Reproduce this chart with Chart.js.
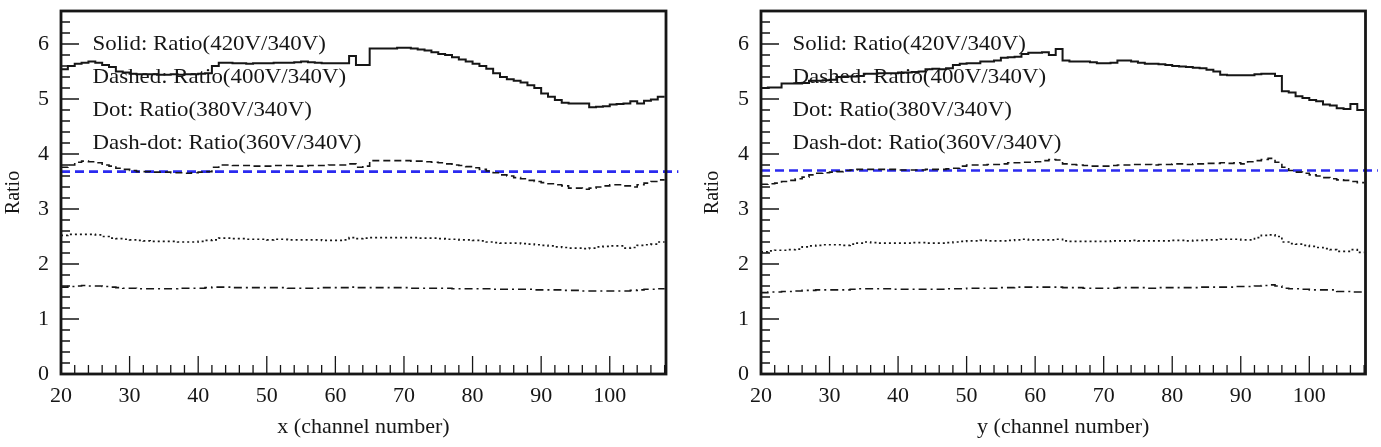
<!DOCTYPE html>
<html>
<head>
<meta charset="utf-8">
<script src="https://cdn.jsdelivr.net/npm/chart.js@4.4.1/dist/chart.umd.min.js"></script>
<style>
  html, body { margin: 0; padding: 0; background: #fff; }
  #wrap { position: relative; width: 1381px; height: 447px; }
  .panel { position: absolute; top: 0; height: 447px; }
</style>
</head>
<body>
<div id="wrap">
  <div class="panel" style="left:0;width:690px"><canvas id="panelX"></canvas></div>
  <div class="panel" style="left:690px;width:691px"><canvas id="panelY"></canvas></div>
</div>
<script>
// bin edges (channel numbers), one bin per channel
const binEdges = [20,21,22,23,24,25,26,27,28,29,30,31,32,33,34,35,36,37,38,39,40,41,42,43,44,45,46,47,48,49,
  50,51,52,53,54,55,56,57,58,59,60,61,62,63,64,65,66,67,68,69,70,71,72,73,74,75,76,77,78,79,
  80,81,82,83,84,85,86,87,88,89,90,91,92,93,94,95,96,97,98,99,100,101,102,103,104,105,106,107,108];

const legendLabels = ['Solid: Ratio(420V/340V)', 'Dashed: Ratio(400V/340V)', 'Dot: Ratio(380V/340V)', 'Dash-dot: Ratio(360V/340V)'];

// ---- x panel ----
const xSolid = [5.54,5.60,5.64,5.66,5.68,5.66,5.62,5.58,5.50,5.48,
  5.46,5.45,5.45,5.45,5.44,5.44,5.45,5.44,5.45,5.45,5.46,5.47,5.60,5.66,
  5.66,5.65,5.65,5.64,5.65,5.65,5.65,5.66,5.66,5.66,5.67,5.68,5.67,5.66,5.65,5.65,5.65,5.65,
  5.78,5.62,5.62,5.92,5.92,5.92,5.92,5.93,5.93,5.92,
  5.90,5.88,5.85,5.82,5.80,5.76,5.72,5.68,5.64,5.60,5.55,5.47,5.40,5.36,5.33,5.30,5.25,5.20,
  5.10,5.04,4.98,4.93,4.92,4.92,4.92,4.85,4.86,4.87,4.90,4.91,4.92,4.96,4.92,4.97,4.99,5.04];
const xDashed = [3.76,3.80,3.85,3.87,3.86,3.84,3.80,3.78,3.74,3.72,
  3.70,3.68,3.68,3.67,3.67,3.67,3.66,3.66,3.65,3.66,3.67,3.68,3.76,3.80,
  3.80,3.79,3.79,3.79,3.78,3.78,3.78,3.79,3.79,3.79,3.78,3.78,3.79,3.79,3.79,3.80,3.80,3.80,
  3.82,3.76,3.78,3.88,3.88,3.88,3.88,3.88,3.88,3.87,3.87,
  3.86,3.85,3.84,3.82,3.80,3.79,3.77,3.75,3.72,3.69,3.66,3.62,3.60,3.57,3.55,3.52,3.50,
  3.48,3.46,3.44,3.42,3.38,3.38,3.36,3.38,3.40,3.42,3.44,3.44,3.42,3.40,3.44,3.47,3.50,3.53];
const xDot = [2.52,2.54,2.54,2.54,2.54,2.53,2.50,2.47,2.46,2.45,
  2.44,2.43,2.42,2.41,2.41,2.41,2.41,2.40,2.40,2.40,2.41,2.43,2.44,2.47,
  2.47,2.46,2.46,2.45,2.45,2.45,2.44,2.45,2.45,2.44,2.44,2.44,2.44,2.44,2.43,2.43,2.43,2.44,
  2.48,2.46,2.47,2.48,2.48,2.48,2.48,2.48,2.48,2.48,2.47,2.47,2.47,2.46,
  2.45,2.45,2.44,2.44,2.43,2.42,2.40,2.39,2.38,2.38,2.38,2.37,2.36,2.35,
  2.34,2.33,2.31,2.30,2.29,2.29,2.28,2.29,2.31,2.32,2.33,2.33,2.29,2.30,2.34,2.35,2.36,2.40];
const xDashDot = [1.58,1.59,1.60,1.61,1.60,1.60,1.59,1.58,1.57,1.56,
  1.56,1.55,1.55,1.55,1.55,1.55,1.55,1.56,1.56,1.56,1.56,1.57,
  1.58,1.58,1.58,1.57,1.57,1.57,1.57,1.57,1.57,
  1.57,1.57,1.56,1.56,1.56,1.56,1.56,1.57,1.57,1.57,1.57,1.58,
  1.57,1.57,1.57,1.57,1.57,1.57,1.57,1.57,1.56,1.56,1.56,1.56,1.56,
  1.56,1.55,1.55,1.55,1.55,1.55,1.55,1.54,1.54,1.54,1.54,1.54,1.54,1.53,1.53,
  1.53,1.53,1.52,1.52,1.52,1.51,1.51,1.51,1.51,1.51,1.51,1.51,1.52,1.53,1.54,1.54,1.55];
const xRef = 3.68;

// ---- y panel ----
const ySolid = [5.20,5.21,5.21,5.28,5.28,5.28,5.29,5.33,5.33,5.34,
  5.35,5.40,5.41,5.41,5.42,5.46,5.46,5.47,5.47,5.47,
  5.48,5.48,5.49,5.50,5.54,5.55,5.54,5.56,5.62,5.64,
  5.65,5.65,5.68,5.68,5.70,5.75,5.76,5.77,5.82,5.84,
  5.84,5.85,5.80,5.91,5.70,5.68,5.68,5.68,5.67,5.65,
  5.65,5.66,5.70,5.70,5.68,5.66,5.64,5.64,5.63,5.62,
  5.60,5.59,5.58,5.57,5.56,5.53,5.50,5.44,5.43,5.43,
  5.43,5.43,5.45,5.46,5.46,5.42,5.14,5.12,5.05,5.02,
  4.98,4.96,4.90,4.88,4.83,4.82,4.91,4.80];
const yDashed = [3.45,3.46,3.47,3.50,3.52,3.55,3.58,3.62,3.65,3.66,
  3.67,3.68,3.70,3.71,3.72,3.72,3.72,3.72,3.72,3.72,
  3.71,3.71,3.71,3.71,3.72,3.72,3.72,3.73,3.74,3.78,
  3.80,3.80,3.80,3.81,3.81,3.82,3.84,3.84,3.85,3.85,
  3.86,3.88,3.90,3.89,3.82,3.81,3.80,3.79,3.78,3.78,
  3.78,3.79,3.80,3.80,3.81,3.81,3.81,3.80,3.81,3.81,
  3.82,3.82,3.81,3.82,3.82,3.83,3.83,3.84,3.83,3.84,
  3.82,3.86,3.88,3.90,3.92,3.85,3.76,3.70,3.67,3.65,
  3.62,3.60,3.57,3.55,3.53,3.52,3.50,3.48];
const yDot = [2.22,2.24,2.25,2.25,2.26,2.27,2.31,2.33,2.34,2.35,
  2.35,2.35,2.34,2.36,2.38,2.40,2.39,2.38,2.38,2.38,
  2.38,2.38,2.39,2.39,2.38,2.38,2.38,2.39,2.40,2.41,
  2.42,2.42,2.43,2.42,2.42,2.42,2.43,2.44,2.45,2.44,
  2.44,2.44,2.44,2.45,2.42,2.41,2.41,2.41,2.41,2.41,
  2.41,2.42,2.42,2.42,2.43,2.42,2.42,2.42,2.42,2.42,
  2.43,2.43,2.42,2.43,2.43,2.44,2.44,2.45,2.45,2.45,
  2.44,2.44,2.48,2.52,2.53,2.50,2.40,2.37,2.36,2.34,
  2.32,2.30,2.28,2.26,2.23,2.23,2.26,2.21];
const yDashDot = [1.48,1.49,1.49,1.50,1.50,1.51,1.52,1.52,1.53,1.53,
  1.53,1.53,1.53,1.54,1.55,1.55,1.55,1.55,1.55,1.54,
  1.54,1.54,1.54,1.54,1.54,1.54,1.54,1.55,1.55,1.55,
  1.56,1.56,1.56,1.56,1.56,1.57,1.57,1.58,1.58,1.58,
  1.58,1.58,1.58,1.58,1.57,1.57,1.57,1.56,1.56,1.56,
  1.56,1.56,1.57,1.57,1.57,1.57,1.56,1.56,1.57,1.57,
  1.57,1.57,1.57,1.57,1.58,1.58,1.58,1.58,1.58,1.59,
  1.59,1.59,1.60,1.61,1.62,1.60,1.56,1.55,1.55,1.54,
  1.53,1.53,1.53,1.53,1.50,1.50,1.49,1.49];
const yRef = 3.70;

const serif = '"Liberation Serif", "DejaVu Serif", serif';
const INK = '#161616';

// histogram outline: each value spans its bin, last value repeated at the closing edge
function histPoints(vals) {
  return binEdges.map((e, i) => ({ x: e, y: vals[Math.min(i, vals.length - 1)] }));
}

// frame + ROOT style ticks drawn inside the box
const frameTicks = {
  id: 'frameTicks',
  afterDatasetsDraw(chart) {
    const { ctx, chartArea: a, scales: { x, y } } = chart;
    ctx.save();
    ctx.strokeStyle = INK;
    ctx.lineWidth = 1.3;
    ctx.beginPath();
    for (let v = 20; v <= 108; v += 2) {
      const px = x.getPixelForValue(v);
      const len = v % 10 === 0 ? 18 : 9;
      ctx.moveTo(px, a.bottom); ctx.lineTo(px, a.bottom - len);
    }
    for (let k = 0; k <= 33; k++) {
      const py = y.getPixelForValue(k * 0.2);
      const len = k % 5 === 0 ? 18 : 9;
      ctx.moveTo(a.left, py); ctx.lineTo(a.left + len, py);
    }
    ctx.stroke();
    ctx.lineWidth = 2.8;
    ctx.strokeRect(a.left, a.top, a.right - a.left, a.bottom - a.top);
    ctx.restore();
  }
};

// the four text lines in the upper left of each box
const legendText = {
  id: 'legendText',
  afterDatasetsDraw(chart) {
    const { ctx, scales: { x, y } } = chart;
    ctx.save();
    ctx.fillStyle = INK;
    ctx.font = '21px ' + serif;
    ctx.textBaseline = 'middle';
    legendLabels.forEach((t, i) => {
      const px = x.getPixelForValue(24.6);
      const py = y.getPixelForValue(6.0 - 0.6 * i);
      ctx.save();
      ctx.translate(px, py);
      ctx.scale(1.09, 1);
      ctx.fillText(t, 0, 0);
      ctx.restore();
    });
    ctx.restore();
  }
};

function makePanel(id, series, ref, xTitle, yWidth, rightPad, yTitlePad) {
  const styles = [
    { dash: [], w: 2 },
    { dash: [7, 4], w: 1.6 },
    { dash: [2, 3], w: 1.7 },
    { dash: [8, 4, 2, 4], w: 1.6 }
  ];
  const datasets = series.map((vals, i) => ({
    data: histPoints(vals),
    borderColor: INK,
    borderWidth: styles[i].w,
    borderDash: styles[i].dash,
    stepped: 'before',
    pointRadius: 0,
    fill: false
  }));
  datasets.push({
    data: [{ x: 20, y: ref }, { x: 110, y: ref }],
    borderColor: '#2a2af0',
    borderWidth: 2.6,
    borderDash: [9, 5],
    pointRadius: 0,
    fill: false,
    clip: false
  });

  new Chart(document.getElementById(id), {
    type: 'line',
    data: { datasets },
    options: {
      responsive: true,
      maintainAspectRatio: false,
      animation: false,
      events: [],
      layout: { padding: { left: 0, top: 11, right: rightPad, bottom: 0 } },
      plugins: { legend: { display: false }, tooltip: { enabled: false } },
      scales: {
        x: {
          type: 'linear', min: 20, max: 108.2,
          grid: { display: false, drawTicks: false },
          border: { display: false },
          ticks: {
            stepSize: 10, includeBounds: false, padding: 9,
            color: INK, font: { family: serif, size: 22 },
            callback: v => (v % 10 === 0 && v <= 100 ? String(v) : '')
          },
          title: { display: true, text: xTitle, color: INK, font: { family: serif, size: 22 }, padding: { top: 0, bottom: 7 } },
          afterFit(s) { s.height = 73; s.paddingLeft = 0; s.paddingRight = 0; }
        },
        y: {
          min: 0, max: 6.6,
          grid: { display: false, drawTicks: false },
          border: { display: false },
          ticks: {
            stepSize: 1, includeBounds: false, padding: 12,
            color: INK, font: { family: serif, size: 22 },
            callback: v => (Number.isInteger(v) ? String(v) : '')
          },
          title: { display: true, text: 'Ratio', color: INK, font: { family: serif, size: 20 }, padding: { top: yTitlePad, bottom: 0 } },
          afterFit(s) { s.width = yWidth; s.paddingTop = 0; s.paddingBottom = 0; }
        }
      }
    },
    plugins: [frameTicks, legendText]
  });
}

makePanel('panelX', [xSolid, xDashed, xDot, xDashDot], xRef, 'x (channel number)', 61, 24, 2);
makePanel('panelY', [ySolid, yDashed, yDot, yDashDot], yRef, 'y (channel number)', 71, 15.5, 11);
</script>
</body>
</html>
